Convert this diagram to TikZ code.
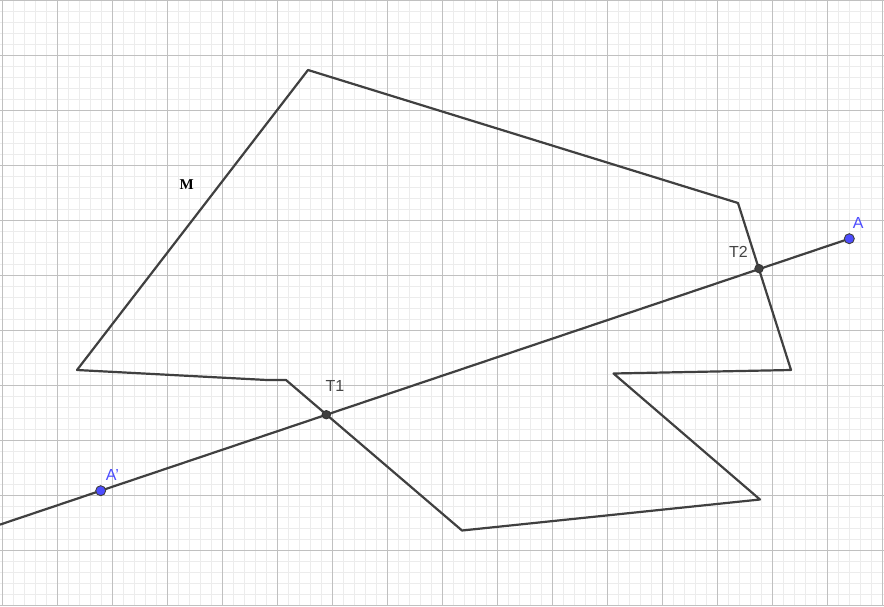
\documentclass[tikz,border=0pt]{standalone}
\usepackage{fontspec}
\setmainfont{Liberation Sans}
\newfontfamily\serifM{Liberation Serif}
\definecolor{gmajor}{HTML}{C0C0C0}
\definecolor{gminor}{HTML}{ECECEC}
\definecolor{ink}{HTML}{404040}
\definecolor{ptblue}{HTML}{4D4DFF}
\definecolor{lblgray}{HTML}{444444}
\tikzset{
  edge/.style={draw=ink, line width=2.2pt, line join=round, line cap=round},
  bluept/.style={circle, fill=ptblue, draw=ink, line width=0.9pt, minimum size=10pt, inner sep=0pt},
  graypt/.style={circle, fill=ink, draw=black!80, line width=0.8pt, minimum size=8.5pt, inner sep=0pt},
  bluelbl/.style={text=ptblue, font=\fontsize{16}{16}\selectfont, inner sep=0pt},
  graylbl/.style={text=lblgray, font=\fontsize{16}{16}\selectfont, inner sep=0pt},
}
\begin{document}
\begin{tikzpicture}[x=1pt,y=-1pt]
\useasboundingbox (0,0) rectangle (884,606);
\fill[white] (0,0) rectangle (884,606);
% minor grid
\foreach \k in {0,...,80} {\draw[gminor, line width=0.7pt] ({2.3+11*\k},0) -- ({2.3+11*\k},606);}
\foreach \k in {0,...,55} {\draw[gminor, line width=0.7pt] (0,{11*\k}) -- (884,{11*\k});}
% major grid
\foreach \k in {0,...,16} {\draw[gmajor, line width=1pt] ({2.3+55*\k},0) -- ({2.3+55*\k},606);}
\foreach \k in {0,...,11} {\draw[gmajor, line width=1pt] (0,{55*\k}) -- (884,{55*\k});}
% polygon M
\coordinate (p1) at (308,70);
\coordinate (p2) at (738,203);
\coordinate (p3) at (791,370);
\coordinate (p4) at (613.5,373.5);
\coordinate (p5) at (760,499.5);
\coordinate (p6) at (462,530.5);
\coordinate (p7) at (286,380);
\coordinate (p8) at (267,380);
\coordinate (p9) at (77,370);
\draw[edge] (p1) -- (p2) -- (p3) -- (p4) -- (p5) -- (p6) -- (p7) -- (p8) -- (p9) -- cycle;
% ray
\coordinate (Aend) at (0,524.6);
\coordinate (Ac) at (849.3,238.7);
\draw[edge, line cap=butt] (Ac) -- (Aend);
% points
\node[graypt] (T1) at (326.3,414.7) {};
\node[graypt] (T2) at (759,268.6) {};
\node[bluept] (A) at (849.3,238.7) {};
\node[bluept] (A1) at (100.7,490.7) {};
% labels
\node[graylbl] (lT1) at (335,386.2) {T1};
\node[graylbl] (lT2) at (738.5,252) {T2};
\node[bluelbl] (lA) at (858.3,222.5) {A};
\node[bluelbl] (lA1) at (112.5,475.3) {A'};
\node[inner sep=0pt, font=\serifM\bfseries\fontsize{15}{15}\selectfont, text=black] (lM) at (186.7,185) {M};
\end{tikzpicture}
\end{document}
